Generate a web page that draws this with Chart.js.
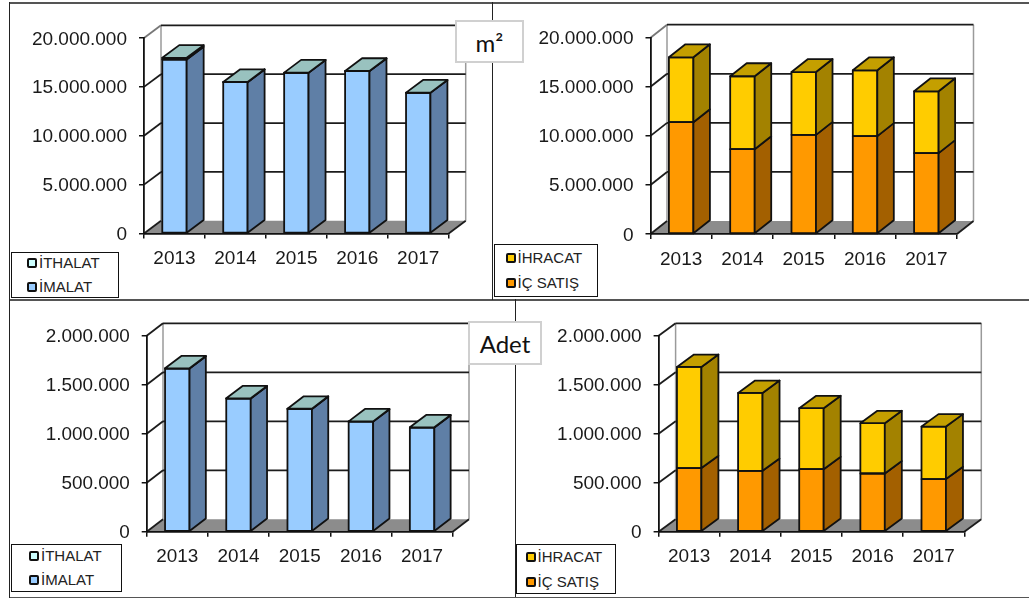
<!DOCTYPE html>
<html>
<head>
<meta charset="utf-8">
<title>m2 ve adet</title>
<script src="https://cdn.jsdelivr.net/npm/chart.js@4/dist/chart.umd.min.js"></script>
<style>
    html, body { margin: 0; padding: 0; background: #fff; }
    #page { position: relative; width: 1029px; height: 598px; overflow: hidden; }
    #page canvas { position: absolute; }
    .rule { position: absolute; background: #555; }
    .legend { position: absolute; box-sizing: border-box; background: #fff; border: 1px solid #111; }
    .legend span { position: absolute; font: 15px "Liberation Sans", Arial, sans-serif; color: #222; line-height: 16px; white-space: nowrap; }
    .legend i { position: absolute; box-sizing: border-box; width: 10px; height: 10px; border: 2px solid #111; border-radius: 2px; }
    .unit { position: absolute; box-sizing: border-box; background: #fff; border: 2px solid #d0d0d0; font: 24px Lato, sans-serif; color: #111; text-align: center; }
</style>
</head>
<body>
<div id="page"></div>
<script>
// Chart data
const years = ['2013', '2014', '2015', '2016', '2017'];

const m2Imalat = [17800000, 15480000, 16440000, 16610000, 14390000];
const m2Ithalat = [170000, 20000, 20000, 20000, 20000];
const m2IcSatis = [11390000, 8640000, 10100000, 9970000, 8240000];
const m2Ihracat = [6610000, 7430000, 6400000, 6710000, 6300000];

const adetImalat = [1664000, 1358000, 1252000, 1123000, 1062000];
const adetIthalat = [3000, 3000, 3000, 3000, 3000];
const adetIcSatis = [649000, 621000, 638000, 594000, 537000];
const adetIhracat = [1032000, 795000, 622000, 513000, 536000];

const m2Max = 20000000;
const m2Step = 5000000;
const adetMax = 2000000;
const adetStep = 500000;

const labelIthalat = 'İTHALAT';
const labelImalat = 'İMALAT';
const labelIhracat = 'İHRACAT';
const labelIcSatis = 'İÇ SATIŞ';

// Colours: front, side, top
const blueStyle = { front: '#99ccff', side: '#5f7fa6', top: '#99c2bf' };
const cyanStyle = { front: '#ccffff', side: '#5f7fa6', top: '#99c2bf' };
const orangeStyle = { front: '#ff9900', side: '#a36000', top: '#a36000' };
const yellowStyle = { front: '#ffcc00', side: '#a38200', top: '#c49f00' };

// Format number with dots
function formatNumber(num) {
    return num.toString().replace(/\B(?=(\d{3})+(?!\d))/g, '.');
}

// Walls, floor and back grid lines of the 3D box
const boxPlugin = {
    id: 'box3d',
    beforeDraw(chart, args, opts) {
        const ctx = chart.ctx;
        const a = chart.chartArea;
        const dx = opts.dx, dy = opts.dy;
        const yScale = chart.scales.y;

        // value labels sit a little lower than the library puts them
        yScale.getLabelItems(a).forEach(item => { item.textOffset = 1.3; });

        ctx.save();
        ctx.lineCap = 'butt';

        // floor
        ctx.fillStyle = '#8c8c8c';
        ctx.beginPath();
        ctx.moveTo(a.left, a.bottom);
        ctx.lineTo(a.right, a.bottom);
        ctx.lineTo(a.right + dx, a.bottom - dy);
        ctx.lineTo(a.left + dx, a.bottom - dy);
        ctx.closePath();
        ctx.fill();

        // wall corners
        ctx.strokeStyle = '#9a9a9a';
        ctx.lineWidth = 1.5;
        ctx.beginPath();
        ctx.moveTo(a.left + dx, a.top - dy);
        ctx.lineTo(a.left + dx, a.bottom - dy);
        ctx.moveTo(a.right + dx, a.top - dy);
        ctx.lineTo(a.right + dx, a.bottom - dy);
        ctx.stroke();

        // grid lines on the left and back walls
        yScale.ticks.forEach(t => {
            const y = yScale.getPixelForValue(t.value);
            ctx.lineWidth = 1.8;
            ctx.strokeStyle = (t.value === yScale.max && opts.grayTop) ? '#777' : '#1c1c1c';
            ctx.beginPath();
            ctx.moveTo(a.left, y);
            ctx.lineTo(a.left + dx, y - dy);
            ctx.stroke();
            if (t.value > 0) {
                ctx.strokeStyle = '#1c1c1c';
                ctx.beginPath();
                ctx.moveTo(a.left + dx, y - dy);
                ctx.lineTo(a.right + dx, y - dy);
                ctx.stroke();
            }
        });

        // floor edge
        ctx.strokeStyle = '#1c1c1c';
        ctx.beginPath();
        ctx.moveTo(a.right, a.bottom);
        ctx.lineTo(a.right + dx, a.bottom - dy);
        ctx.stroke();
        ctx.restore();
    },
    afterDatasetsDraw(chart, args, opts) {
        const ctx = chart.ctx;
        const dx = opts.dx, dy = opts.dy;
        ctx.save();
        ctx.strokeStyle = '#111';
        ctx.lineWidth = 1.8;
        ctx.lineJoin = 'round';
        const last = chart.data.datasets.length - 1;
        chart.data.datasets.forEach((ds, d) => {
            chart.getDatasetMeta(d).data.forEach(bar => {
                const right = bar.x + bar.width / 2;
                const left = bar.x - bar.width / 2;
                // front outline
                ctx.strokeRect(left, bar.y, bar.width, bar.base - bar.y);
                // side face
                ctx.fillStyle = ds.faces.side;
                ctx.beginPath();
                ctx.moveTo(right, bar.y);
                ctx.lineTo(right + dx, bar.y - dy);
                ctx.lineTo(right + dx, bar.base - dy);
                ctx.lineTo(right, bar.base);
                ctx.closePath();
                ctx.fill();
                ctx.stroke();
                // top face
                if (d === last) {
                    ctx.fillStyle = ds.faces.top;
                    ctx.beginPath();
                    ctx.moveTo(left, bar.y);
                    ctx.lineTo(left + dx, bar.y - dy);
                    ctx.lineTo(right + dx, bar.y - dy);
                    ctx.lineTo(right, bar.y);
                    ctx.closePath();
                    ctx.fill();
                    ctx.stroke();
                }
            });
        });
        ctx.restore();
    }
};

function dataset(label, data, faces) {
    return {
        label: label,
        data: data,
        faces: faces,
        backgroundColor: faces.front,
        borderWidth: 0,
        barPercentage: 0.4,
        categoryPercentage: 1
    };
}

// Build one panel
function makePanel(p) {
    const page = document.getElementById('page');
    const canvas = document.createElement('canvas');
    canvas.style.left = p.box[0] + 'px';
    canvas.style.top = p.box[1] + 'px';
    canvas.style.width = p.box[2] + 'px';
    canvas.style.height = p.box[3] + 'px';
    canvas.width = p.box[2];
    canvas.height = p.box[3];
    page.appendChild(canvas);

    const tickFont = { family: '"Liberation Sans", Arial, sans-serif', size: p.fontSize };

    new Chart(canvas.getContext('2d'), {
        type: 'bar',
        data: { labels: years, datasets: p.datasets },
        plugins: [boxPlugin],
        options: {
            responsive: false,
            animation: false,
            events: [],
            layout: {
                padding: {
                    left: 0,
                    top: p.plot[1] - p.box[1],
                    right: p.box[0] + p.box[2] - p.plot[2],
                    bottom: 0
                }
            },
            plugins: {
                legend: { display: false },
                tooltip: { enabled: false },
                box3d: { dx: p.depth[0], dy: p.depth[1], grayTop: p.grayTop }
            },
            scales: {
                x: {
                    stacked: true,
                    afterFit(scale) { scale.height = p.box[1] + p.box[3] - p.plot[3]; },
                    grid: { drawOnChartArea: false, color: '#111', lineWidth: 1.5, tickLength: 5 },
                    border: { color: '#111', width: 1.8 },
                    ticks: { color: '#1a1a1a', font: tickFont, padding: 9, maxRotation: 0 }
                },
                y: {
                    stacked: true,
                    min: 0,
                    max: p.max,
                    afterFit(scale) { scale.width = p.plot[0] - p.box[0]; },
                    grid: { drawOnChartArea: false, color: '#111', lineWidth: 1.5, tickLength: 5 },
                    border: { color: '#111', width: 1.8 },
                    ticks: {
                        stepSize: p.step,
                        color: '#1a1a1a',
                        font: tickFont,
                        padding: 12,
                        callback: v => formatNumber(v)
                    }
                }
            }
        }
    });

    // legend box
    const box = document.createElement('div');
    box.className = 'legend';
    box.style.cssText = `left:${p.legend[0]}px;top:${p.legend[1]}px;width:${p.legend[2]}px;height:${p.legend[3]}px`;
    p.legendItems.forEach((item, i) => {
        const cy = p.legendRows[i] - p.legend[1];
        const sw = document.createElement('i');
        sw.style.cssText = `left:${p.legendX - p.legend[0] - 1}px;top:${cy - 6}px;background:${item[1]}`;
        const txt = document.createElement('span');
        txt.style.cssText = `left:${p.legendX - p.legend[0] + 11}px;top:${cy - 9}px`;
        txt.textContent = item[0];
        box.appendChild(sw);
        box.appendChild(txt);
    });
    page.appendChild(box);
}

const panels = [
    {
        box: [10, 3, 482, 296], plot: [144, 38, 448.7, 233.5], depth: [17, 12.7],
        max: m2Max, step: m2Step, fontSize: 19, grayTop: true,
        datasets: [dataset(labelImalat, m2Imalat, blueStyle), dataset(labelIthalat, m2Ithalat, cyanStyle)],
        legend: [11, 252, 108, 46], legendX: 27, legendRows: [263, 287],
        legendItems: [[labelIthalat, cyanStyle.front], [labelImalat, blueStyle.front]]
    },
    {
        box: [493, 3, 536, 296], plot: [650.5, 37.7, 957, 234], depth: [16.5, 13],
        max: m2Max, step: m2Step, fontSize: 19, grayTop: true,
        datasets: [dataset(labelIcSatis, m2IcSatis, orangeStyle), dataset(labelIhracat, m2Ihracat, yellowStyle)],
        legend: [494, 244, 104, 52.5], legendX: 505.5, legendRows: [257.5, 283],
        legendItems: [[labelIhracat, yellowStyle.front], [labelIcSatis, orangeStyle.front]]
    },
    {
        box: [10, 301, 505, 296], plot: [146.7, 335.7, 452.7, 531.7], depth: [16.3, 12.4],
        max: adetMax, step: adetStep, fontSize: 18.9, grayTop: false,
        datasets: [dataset(labelImalat, adetImalat, blueStyle), dataset(labelIthalat, adetIthalat, cyanStyle)],
        legend: [11, 544, 111, 48], legendX: 29, legendRows: [556, 580],
        legendItems: [[labelIthalat, cyanStyle.front], [labelImalat, blueStyle.front]]
    },
    {
        box: [516, 301, 513, 296], plot: [658.6, 335.7, 964.3, 531.7], depth: [17, 12.4],
        max: adetMax, step: adetStep, fontSize: 19, grayTop: false,
        datasets: [dataset(labelIcSatis, adetIcSatis, orangeStyle), dataset(labelIhracat, adetIhracat, yellowStyle)],
        legend: [516, 544, 99.5, 50], legendX: 525.5, legendRows: [556.5, 581.5],
        legendItems: [[labelIhracat, yellowStyle.front], [labelIcSatis, orangeStyle.front]]
    }
];

panels.forEach(makePanel);

// Frame lines between the panels
const rules = [
    [9, 1.5, 1020, 2, '#555'],
    [9, 298.5, 1020, 2, '#555'],
    [9, 596.5, 1020, 2, '#555'],
    [9, 1.5, 1, 597, '#222'],
    [492, 1.5, 1, 298, '#222'],
    [515, 299, 1, 298, '#222']
];
rules.forEach(r => {
    const el = document.createElement('div');
    el.className = 'rule';
    el.style.cssText = `left:${r[0]}px;top:${r[1]}px;width:${r[2]}px;height:${r[3]}px;background:${r[4]}`;
    document.getElementById('page').appendChild(el);
});

// Unit boxes
const units = [
    ['m²', 455, 20, 69, 43],
    ['Adet', 468, 320.5, 74, 44]
];
units.forEach(u => {
    const el = document.createElement('div');
    el.className = 'unit';
    el.textContent = u[0];
    el.style.cssText = `left:${u[1]}px;top:${u[2]}px;width:${u[3]}px;height:${u[4]}px;line-height:${u[4] - 2}px`;
    document.getElementById('page').appendChild(el);
});
</script>
</body>
</html>
